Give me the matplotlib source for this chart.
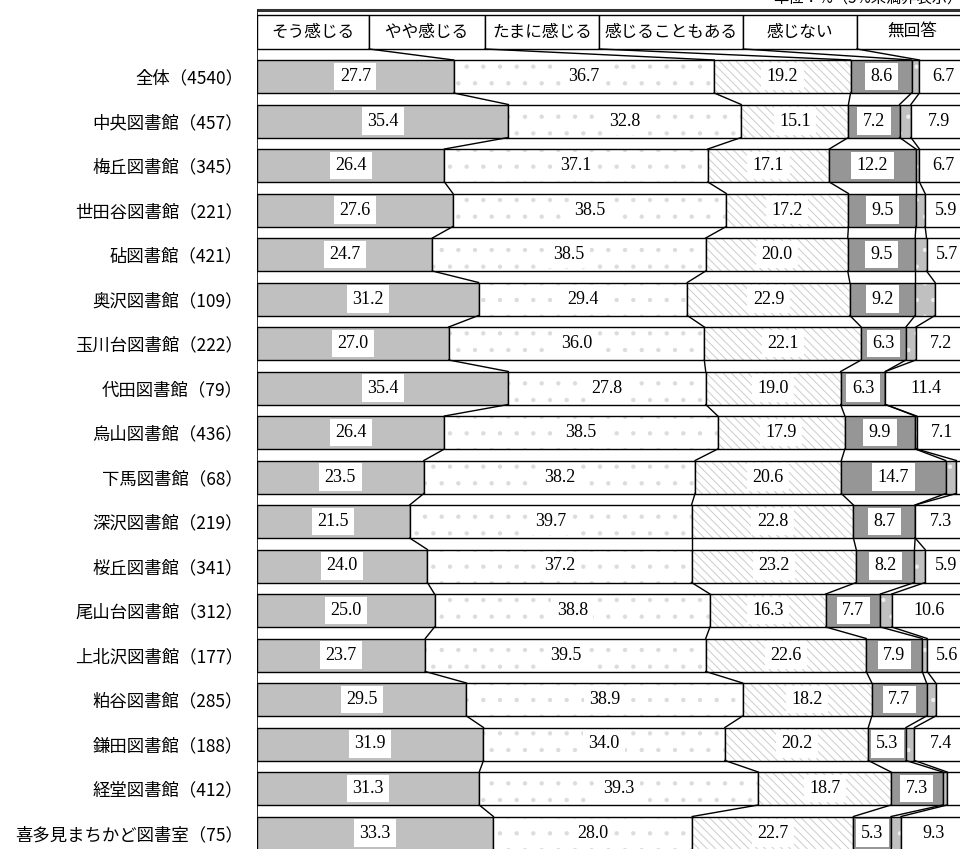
import matplotlib
matplotlib.use('Agg')
import matplotlib.pyplot as plt

plt.rcParams['font.family'] = ['Noto Sans CJK JP', 'DejaVu Sans']
plt.rcParams['hatch.linewidth'] = 0.7

labels = ['全体（4540）', '中央図書館（457）', '梅丘図書館（345）', '世田谷図書館（221）',
          '砧図書館（421）', '奥沢図書館（109）', '玉川台図書館（222）', '代田図書館（79）',
          '烏山図書館（436）', '下馬図書館（68）', '深沢図書館（219）', '桜丘図書館（341）',
          '尾山台図書館（312）', '上北沢図書館（177）', '粕谷図書館（285）', '鎌田図書館（188）',
          '経堂図書館（412）', '喜多見まちかど図書室（75）']
headers = ['そう感じる', 'やや感じる', 'たまに感じる', '感じることもある', '感じない', '無回答']

sou = [27.7, 35.4, 26.4, 27.6, 24.7, 31.2, 27.0, 35.4, 26.4, 23.5, 21.5, 24.0, 25.0, 23.7, 29.5, 31.9, 31.3, 33.3]
yaya = [36.7, 32.8, 37.1, 38.5, 38.5, 29.4, 36.0, 27.8, 38.5, 38.2, 39.7, 37.2, 38.8, 39.5, 38.9, 34.0, 39.3, 28.0]
tama = [19.2, 15.1, 17.1, 17.2, 20.0, 22.9, 22.1, 19.0, 17.9, 20.6, 22.8, 23.2, 16.3, 22.6, 18.2, 20.2, 18.7, 22.7]
koto = [8.6, 7.2, 12.2, 9.5, 9.5, 9.2, 6.3, 6.3, 9.9, 14.7, 8.7, 8.2, 7.7, 7.9, 7.7, 5.3, 7.3, 5.3]
nai = [1.1, 1.6, 0.5, 1.3, 1.6, 2.8, 1.4, 0.0, 0.2, 1.5, 0.0, 1.5, 1.6, 0.7, 1.3, 1.2, 0.6, 1.4]
mukaitou = [6.7, 7.9, 6.7, 5.9, 5.7, 4.5, 7.2, 11.4, 7.1, 1.5, 7.3, 5.9, 10.6, 5.6, 4.4, 7.4, 2.8, 9.3]

series = [sou, yaya, tama, koto, nai, mukaitou]
faces = ['#c0c0c0', 'white', 'white', '#969696', '#c0c0c0', 'white']
hatches = [None, '.', '\\\\\\\\', None, '.', None]
hatch_cols = ['#c0c0c0', '#dcdcdc', '#cccccc', '#969696', '#eeeeee', 'white']

# header cell widths (%), last one runs off the right edge
head_w = [15.8, 16.3, 16.1, 20.3, 16.0, 15.5]

W, H = 960, 849
x0, xw = 257, 710          # bar area in px (cut off on the right like the original)
row0, step = 76.5, 44.5    # first row centre / row pitch in px
bh = 33 / step

fig = plt.figure(figsize=(W / 100, H / 100), dpi=100)
ax = fig.add_axes([x0 / W, 0, xw / W, 1])
ax.set_xlim(0, 100)
ax.set_ylim((H - row0) / step, -row0 / step)
for s in ax.spines.values():
    s.set_visible(False)
ax.set_xticks([])
ax.set_yticks(range(len(labels)), labels, fontsize=12.5)
ax.tick_params(axis='y', length=0, pad=10)

n = len(labels)
ys = list(range(n))
left = [0.0] * n
bounds = []
for vals, fc, ht, hc in zip(series, faces, hatches, hatch_cols):
    ax.barh(ys, vals, left=left, height=bh, color=fc, hatch=ht, edgecolor=hc, linewidth=0)
    ax.barh(ys, vals, left=left, height=bh, fill=False, edgecolor='black', linewidth=1.0)
    for i, v in enumerate(vals):
        if v >= 5:
            ax.text(left[i] + v / 2, i, f'{v:.1f}', ha='center', va='center',
                    fontsize=13, family='Liberation Serif',
                    bbox=dict(boxstyle='square,pad=0.3', fc='white', ec='none'))
    left = [l + v for l, v in zip(left, vals)]
    bounds.append(left[:])

# connecting lines between neighbouring bars
for b in bounds[:-1]:
    for i in range(n - 1):
        ax.plot([b[i], b[i + 1]], [i + bh / 2, i + 1 - bh / 2], color='black', lw=1.0)

# header row
h_top, h_bot = (15 - row0) / step, (49 - row0) / step
hl = 0
head_div = []
for name, w in zip(headers, head_w):
    ax.barh((h_top + h_bot) / 2, w, left=hl, height=h_bot - h_top,
            color='white', edgecolor='black', linewidth=1.0)
    ax.text(hl + w / 2, (h_top + h_bot) / 2, name, ha='center', va='center', fontsize=12)
    hl += w
    head_div.append(hl)

# lines from the header dividers down to the first bar
for hd, b in zip(head_div[:-1], bounds[:-1]):
    ax.plot([hd, b[0]], [h_bot, -bh / 2], color='black', lw=1.0)

line_top = (10 - row0) / step
ax.plot([0, 100], [line_top, line_top], color='#333333', lw=2.2, solid_capstyle='butt')
ax.plot([0, 0], [line_top, (H - row0) / step], color='black', lw=1.2)

fig.text(962 / W, 1 - 7 / H, '単位：%（5%未満非表示）', ha='right', va='bottom', fontsize=11)

fig.savefig('out.png', dpi=100)
